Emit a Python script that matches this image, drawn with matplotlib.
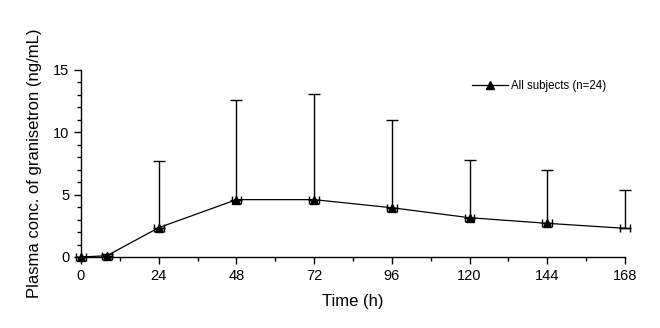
import matplotlib
matplotlib.use("Agg")
import matplotlib.pyplot as plt
from matplotlib.ticker import MultipleLocator

plt.rcParams['font.family'] = ['Liberation Sans', 'DejaVu Sans']

time_h = [0, 8, 24, 48, 72, 96, 120, 144, 168]
mean_conc = [0.0, 0.1, 2.35, 4.6, 4.6, 3.95, 3.15, 2.7, 2.3]
sd_conc = [0.0, 0.1, 5.35, 8.0, 8.5, 7.05, 4.65, 4.25, 3.05]
x_ticks = [0, 24, 48, 72, 96, 120, 144, 168]
y_ticks = [0, 5, 10, 15]

fig = plt.figure(figsize=(6.6, 3.28), dpi=100)
ax = fig.add_axes([0.1227, 0.2165, 0.8243, 0.5701])

eb1 = ax.errorbar(time_h, mean_conc, yerr=[[0]*len(sd_conc), sd_conc], fmt='none',
                  ecolor='black', elinewidth=1.0, capsize=4, capthick=1.0, zorder=2)
eb2 = ax.errorbar(time_h, mean_conc, xerr=1.5, fmt='none', ecolor='black',
                  elinewidth=1.0, capsize=3, capthick=1.0, zorder=2)
for eb in (eb1, eb2):
    for art in eb.get_children():
        art.set_clip_on(False)
ax.plot(time_h, mean_conc, color='black', lw=0.9, zorder=3)
ax.plot(time_h[:-1], mean_conc[:-1], linestyle='none', marker='^', color='black',
        markersize=6, zorder=4, clip_on=False)
ax.plot([], [], color='black', lw=0.9, marker='^', markersize=6,
        label='All subjects (n=24)')

ax.set_xlim(0, 168)
ax.set_ylim(0, 15)
ax.set_xticks(x_ticks)
ax.set_yticks(y_ticks)
ax.xaxis.set_minor_locator(MultipleLocator(12))
ax.yaxis.set_minor_locator(MultipleLocator(1))
ax.tick_params(which='major', direction='out', length=5, width=1, labelsize=10.5)
ax.tick_params(which='minor', direction='out', length=3, width=1)
for s in ['top', 'right']:
    ax.spines[s].set_visible(False)
for s in ['left', 'bottom']:
    ax.spines[s].set_linewidth(1)

ax.set_xlabel('Time (h)', fontsize=12, labelpad=8)
ax.set_ylabel('Plasma conc. of granisetron (ng/mL)', fontsize=12, labelpad=8)

leg = ax.legend(loc='upper right', bbox_to_anchor=(0.985, 1.0), frameon=False,
                fontsize=8.3, handlelength=3.1, handletextpad=0.3)

fig.savefig('out.png', dpi=100)
